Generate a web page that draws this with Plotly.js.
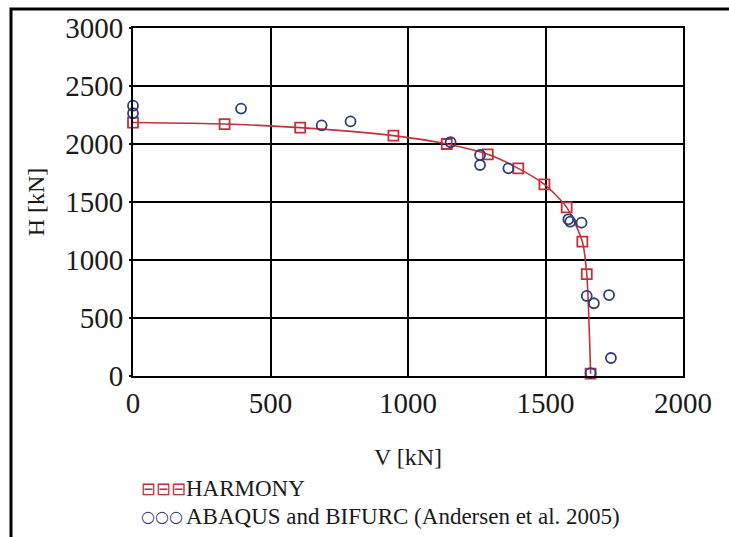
<!DOCTYPE html>
<html>
<head>
<meta charset="utf-8">
<script src="https://cdn.plot.ly/plotly-3.0.1.min.js"></script>
<style>
  html, body { margin: 0; padding: 0; background: #ffffff; }
  #chart { width: 729px; height: 537px; }
</style>
</head>
<body>
<div id="chart"></div>
<script>
// HARMONY results (red squares with smooth line)
const harmonyV = [0, 333, 608, 947, 1141, 1290, 1401, 1496, 1577, 1634, 1650, 1664];
const harmonyH = [2185, 2172, 2141, 2072, 2000, 1911, 1790, 1652, 1454, 1158, 879, 20];

// ABAQUS and BIFURC (Andersen et al. 2005) (blue open circles)
const abaqusV = [0, 0, 393, 686, 791, 1155, 1262, 1262, 1365, 1583, 1590, 1631, 1650, 1676, 1731, 1738, 1664];
const abaqusH = [2330, 2265, 2305, 2161, 2195, 2015, 1905, 1819, 1790, 1351, 1330, 1322, 690, 627, 698, 155, 25];

const yTickVals = [0, 500, 1000, 1500, 2000, 2500, 3000];
const xTickVals = [0, 500, 1000, 1500, 2000];

const seriesNames = ["HARMONY", "ABAQUS and BIFURC (Andersen et al. 2005)"];
const legendGlyphs = ["\u229F\u229F\u229F", "\u25CB\u25CB\u25CB"];

const red = "#c4303a";
const blue = "#2c3e7e";
const serif = "'Liberation Serif', 'Times New Roman', serif";
const textColor = "#1a1a1a";

const traces = [
  {
    x: harmonyV, y: harmonyH,
    name: seriesNames[0],
    type: "scatter",
    mode: "lines+markers",
    line: { color: red, width: 1.6, shape: "spline", smoothing: 0.7 },
    marker: { symbol: "square-open", size: 10, color: red, line: { width: 1.8, color: red } },
    cliponaxis: false
  },
  {
    x: abaqusV, y: abaqusH,
    name: seriesNames[1],
    type: "scatter",
    mode: "markers",
    marker: { symbol: "circle-open", size: 10, color: blue, line: { width: 1.8, color: blue } },
    cliponaxis: false
  }
];

const L = 133, R = 683, T = 28, B = 376, W = 729, H = 537;
const px2x = p => (p - L) / (R - L);
const px2y = p => (B - p) / (B - T);

const legendRows = [488, 516];
const legendColors = [red, blue];
const legendGlyphSizes = [18, 16];
const annotations = [];
seriesNames.forEach((name, i) => {
  annotations.push({
    xref: "paper", yref: "paper",
    x: px2x(139), y: px2y(legendRows[i]),
    xanchor: "left", yanchor: "middle",
    text: legendGlyphs[i], showarrow: false,
    font: { family: "DejaVu Sans", size: legendGlyphSizes[i], color: legendColors[i] }
  });
  annotations.push({
    xref: "paper", yref: "paper",
    x: px2x(184), y: px2y(legendRows[i]),
    xanchor: "left", yanchor: "middle",
    text: name, showarrow: false,
    font: { family: serif, size: 23, color: textColor }
  });
});

const layout = {
  width: W, height: H,
  margin: { l: L, r: W - R, t: T, b: H - B, pad: 0 },
  paper_bgcolor: "#ffffff",
  plot_bgcolor: "#ffffff",
  font: { family: serif, color: textColor },
  showlegend: false,
  xaxis: {
    range: [0, 2000],
    tickvals: xTickVals,
    ticktext: xTickVals.map(String),
    showgrid: true, gridcolor: "#000000", gridwidth: 2,
    showline: true, linecolor: "#000000", linewidth: 2, mirror: true,
    zeroline: false,
    ticks: "",
    tickfont: { family: serif, size: 29, color: textColor },
    title: { text: "V [kN]", font: { family: serif, size: 24, color: textColor }, standoff: 30 },
    automargin: false,
    fixedrange: true
  },
  yaxis: {
    range: [0, 3000],
    tickvals: yTickVals,
    ticktext: yTickVals.map(String),
    showgrid: true, gridcolor: "#000000", gridwidth: 2,
    showline: true, linecolor: "#000000", linewidth: 2, mirror: true,
    zeroline: false,
    ticks: "outside", ticklen: 2, tickwidth: 2, tickcolor: "#000000",
    tickfont: { family: serif, size: 29, color: textColor },
    title: { text: "H [kN]", font: { family: serif, size: 24, color: textColor }, standoff: 14 },
    automargin: false,
    fixedrange: true
  },
  annotations: annotations,
  shapes: [
    {
      type: "path", xref: "paper", yref: "paper",
      path: "M " + px2x(11) + "," + px2y(H + 5) + " L " + px2x(11) + "," + px2y(9) + " L " + px2x(W + 5) + "," + px2y(9),
      line: { color: "#000000", width: 3 }
    }
  ]
};

Plotly.newPlot("chart", traces, layout, { displayModeBar: false, staticPlot: true });
</script>
</body>
</html>
